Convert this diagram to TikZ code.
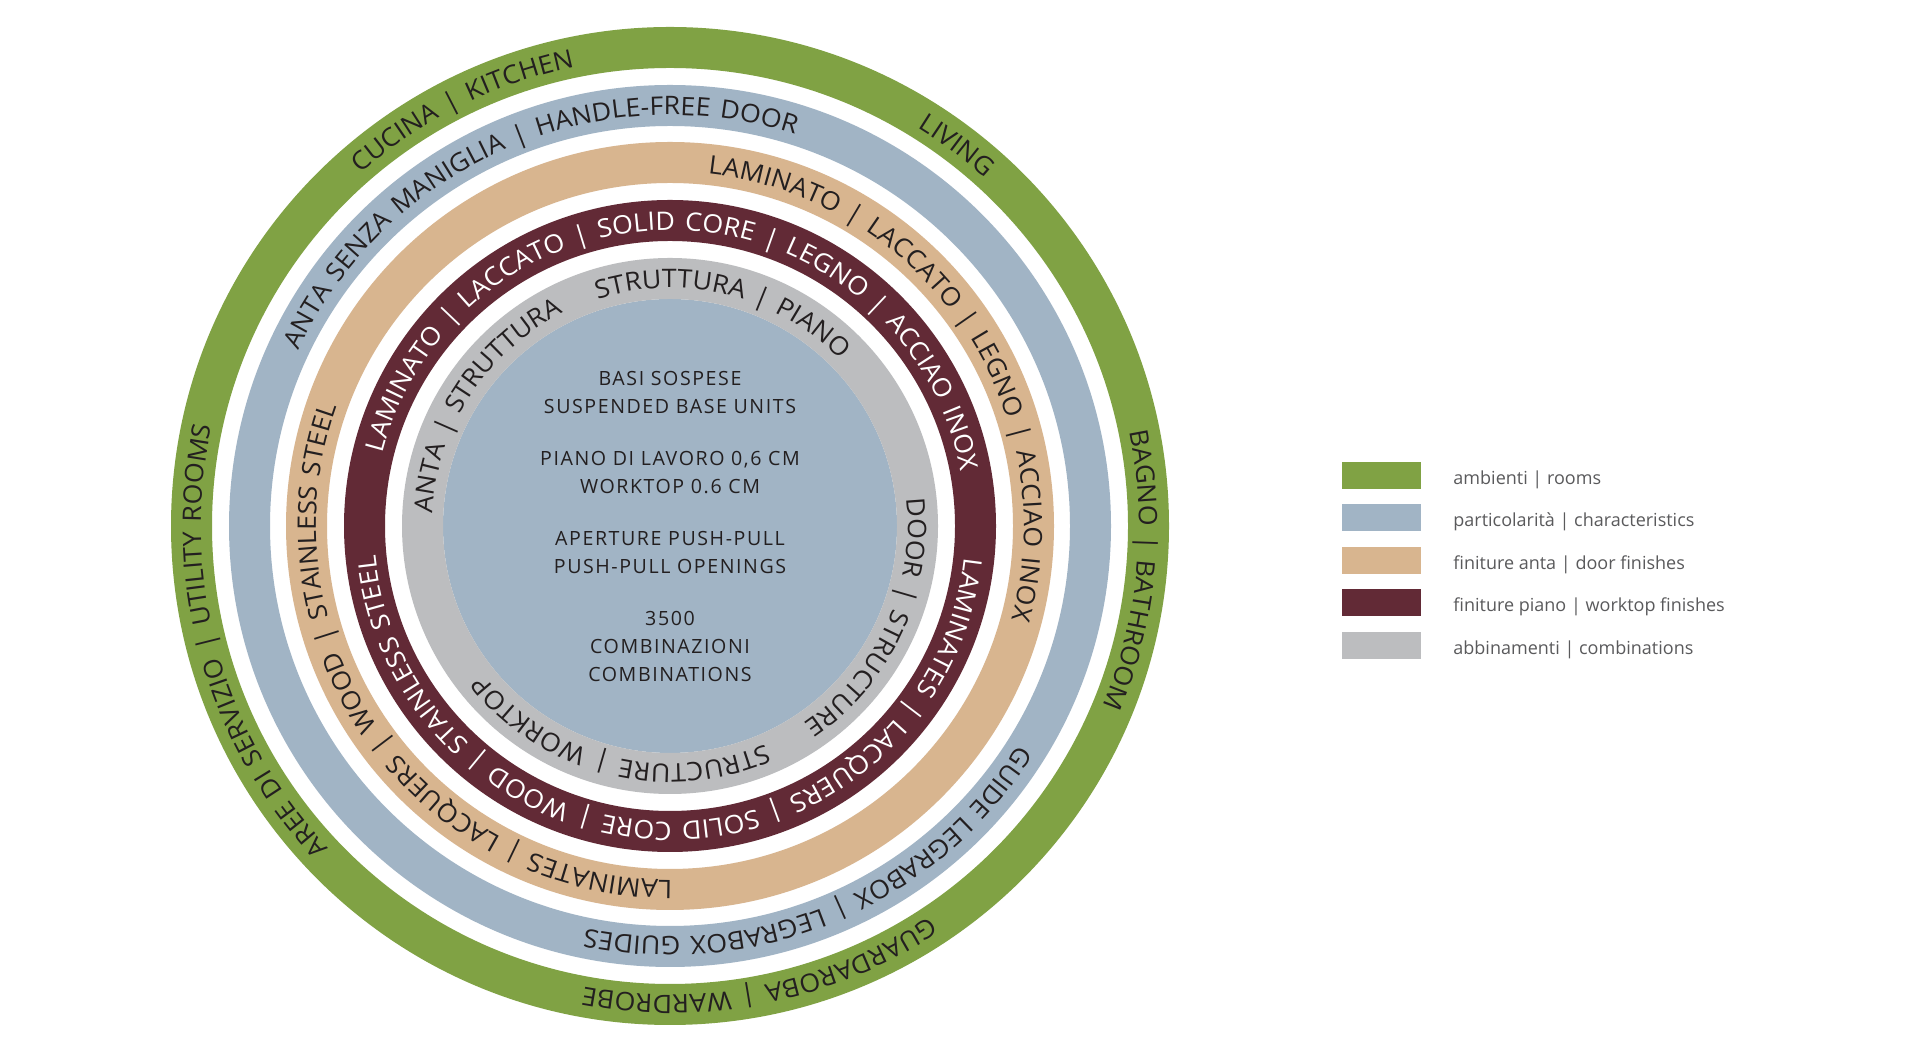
\documentclass[tikz,border=0pt]{standalone}
\usepackage{fontspec}
\setmainfont{Open Sans}
\newfontfamily\capsfont{Open Sans}[LetterSpace=8]
\newfontfamily\ringfont{Open Sans}[FakeStretch=1.05,LetterSpace=10]
\usetikzlibrary{calc,positioning,decorations.text}

\definecolor{roomgreen}{RGB}{128,162,68}
\definecolor{charblue}{RGB}{161,180,197}
\definecolor{doortan}{RGB}{216,181,143}
\definecolor{topmaroon}{RGB}{98,42,54}
\definecolor{combgray}{RGB}{188,189,191}
\definecolor{inkdark}{RGB}{35,31,32}
\definecolor{legendgray}{RGB}{90,90,92}

\def\ringlabel[#1](#2:#3)#4{\path[decorate,decoration={text along path,text align=center,text format delimiters={[}{]},text color=#1,text={[\ringfont\fontsize{25.5}{25.5}\selectfont]#4}}] ($(mid)+(#2+100:#3)$) arc[start angle=#2+100,end angle=#2-100,radius=#3];}

\tikzset{
	swatch/.style={minimum width=79pt,minimum height=27pt,inner sep=0pt},
	legtext/.style={inner sep=0pt,yshift=-4.5pt,text=legendgray,font=\fontsize{18}{18}\selectfont}
}

\begin{document}
\begin{tikzpicture}[x=1pt,y=1pt]
			%%%%% START %%%%%
			
			\useasboundingbox (0,0) rectangle (1920,1056);
			\fill[white] (0,0) rectangle (1920,1056);
			
			\coordinate (mid) at (670,530);
			
			\fill[charblue] (mid) circle (227);
			\draw[line width=41, color=combgray] (mid) circle (247.5);
			\draw[line width=41, color=topmaroon] (mid) circle (305.5);
			\draw[line width=41, color=doortan] (mid) circle (363.5);
			\draw[line width=41, color=charblue] (mid) circle (420.5);
			\draw[line width=41, color=roomgreen] (mid) circle (478.5);
			
			% ambienti
			\ringlabel[inkdark](116.5:469){CUCINA | KITCHEN}
			\ringlabel[inkdark](53:469){LIVING}
			\ringlabel[inkdark](-5.5:469){BAGNO | BATHROOM}
			\ringlabel[inkdark](-78.5:469){GUARDAROBA | WARDROBE}
			\ringlabel[inkdark](195.5:469){AREE DI SERVIZIO | UTILITY ROOMS}
			
			% particolarita
			\ringlabel[inkdark](113.5:411){ANTA SENZA MANIGLIA | HANDLE-FREE DOOR}
			\ringlabel[inkdark](-67:411){GUIDE LEGRABOX | LEGRABOX GUIDES}
			
			% finiture anta
			\ringlabel[inkdark](34.3:354){LAMINATO | LACCATO | LEGNO | ACCIAO INOX}
			\ringlabel[inkdark](-144.7:354){LAMINATES | LACQUERS | WOOD | STAINLESS STEEL}
			
			% finiture piano
			\ringlabel[white](88.2:296){LAMINATO | LACCATO | SOLID CORE | LEGNO | ACCIAO INOX}
			\ringlabel[white](-90.2:296){LAMINATES | LACQUERS | SOLID CORE | WOOD | STAINLESS STEEL}
			
			% abbinamenti
			\ringlabel[inkdark](146.7:238){ANTA | STRUTTURA}
			\ringlabel[inkdark](76:238){STRUTTURA | PIANO}
			\ringlabel[inkdark](-24.7:238){DOOR | STRUCTURE}
			\ringlabel[inkdark](-104:238){STRUCTURE | WORKTOP}
			
			\node[align=center, inner sep=0pt, text=inkdark, font=\capsfont\fontsize{19.6}{28}\selectfont] (core) at (670,529.5) {BASI SOSPESE\\SUSPENDED BASE UNITS\\[24pt]PIANO DI LAVORO 0,6 CM\\WORKTOP 0.6 CM\\[24pt]APERTURE PUSH-PULL\\PUSH-PULL OPENINGS\\[24pt]3500\\COMBINAZIONI\\COMBINATIONS};
			
			% legend
			\node[swatch, fill=roomgreen] (swroom) at (1381.5,580.5) {};
			\node[swatch, fill=charblue] (swchar) at (1381.5,538.5) {};
			\node[swatch, fill=doortan] (swdoor) at (1381.5,495.5) {};
			\node[swatch, fill=topmaroon] (swtop) at (1381.5,453.5) {};
			\node[swatch, fill=combgray] (swcomb) at (1381.5,410.5) {};
			
			\node[legtext, right=32pt of swroom] (txroom) {ambienti | rooms};
			\node[legtext, right=32pt of swchar] (txchar) {particolarità | characteristics};
			\node[legtext, right=32pt of swdoor] (txdoor) {finiture anta | door finishes};
			\node[legtext, right=32pt of swtop] (txtop) {finiture piano | worktop finishes};
			\node[legtext, right=32pt of swcomb] (txcomb) {abbinamenti | combinations};
			
			%%%%% END %%%%%
		\end{tikzpicture}
\end{document}
